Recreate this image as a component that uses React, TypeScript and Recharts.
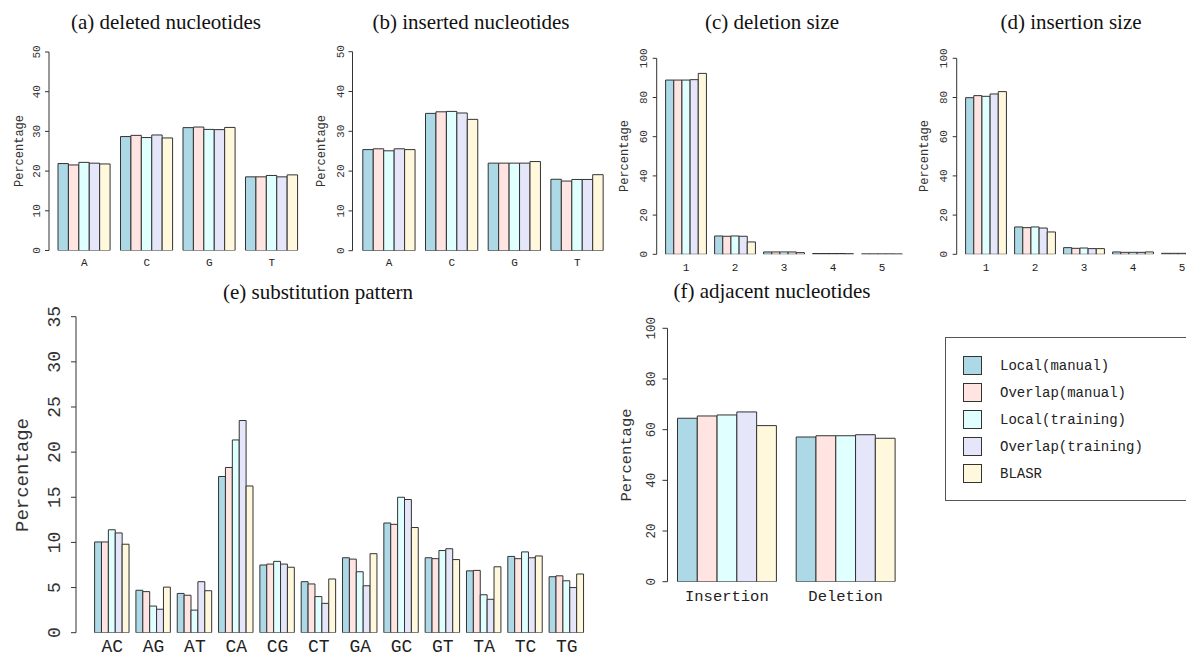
import { BarChart, Bar, XAxis, YAxis } from "recharts";

const methods = [
  "Local(manual)",
  "Overlap(manual)",
  "Local(training)",
  "Overlap(training)",
  "BLASR",
];
const methodColors = ["#ADD8E6", "#FFE4E1", "#E0FFFF", "#E6E6FA", "#FFF8DC"];

const nucleotides = ["A", "C", "G", "T"];
const sizes = ["1", "2", "3", "4", "5"];
const substitutions = ["AC", "AG", "AT", "CA", "CG", "CT", "GA", "GC", "GT", "TA", "TC", "TG"];
const adjacentTypes = ["Insertion", "Deletion"];

// one row per method, one column per category
const deletedNt = [
  [21.9, 28.7, 30.95, 18.55],
  [21.55, 29.0, 31.1, 18.55],
  [22.2, 28.45, 30.5, 18.9],
  [22.0, 29.1, 30.45, 18.55],
  [21.8, 28.35, 31.0, 19.05],
];
const insertedNt = [
  [25.4, 34.5, 22.0, 17.95],
  [25.6, 34.9, 22.0, 17.5],
  [25.1, 35.0, 22.0, 17.9],
  [25.6, 34.6, 22.0, 17.9],
  [25.4, 33.0, 22.4, 19.1],
];
const deletionSize = [
  [88.9, 9.35, 1.2, 0.4, 0.2],
  [88.9, 9.2, 1.2, 0.4, 0.2],
  [88.9, 9.35, 1.2, 0.4, 0.2],
  [89.1, 9.2, 1.2, 0.4, 0.2],
  [92.3, 6.3, 0.85, 0.3, 0.15],
];
const insertionSize = [
  [79.9, 13.95, 3.4, 1.2, 0.5],
  [80.95, 13.6, 3.05, 1.0, 0.5],
  [80.6, 13.95, 3.2, 1.0, 0.5],
  [81.8, 13.4, 2.9, 1.0, 0.5],
  [83.0, 11.4, 2.9, 1.2, 0.5],
];
const substitutionPct = [
  [10.05, 4.7, 4.35, 17.3, 7.5, 5.65, 8.3, 12.15, 8.3, 6.85, 8.45, 6.2],
  [10.05, 4.55, 4.15, 18.3, 7.6, 5.4, 8.15, 12.0, 8.2, 6.9, 8.2, 6.3],
  [11.4, 2.95, 2.5, 21.35, 7.9, 4.0, 6.75, 15.0, 9.1, 4.2, 8.95, 5.75],
  [11.05, 2.6, 5.65, 23.5, 7.6, 3.25, 5.2, 14.75, 9.3, 3.7, 8.3, 5.0],
  [9.8, 5.05, 4.65, 16.25, 7.25, 5.95, 8.75, 11.65, 8.1, 7.3, 8.5, 6.5],
];
const adjacentPct = [
  [64.5, 57.1],
  [65.4, 57.6],
  [65.8, 57.6],
  [67.0, 58.0],
  [61.6, 56.6],
];

const ticks50 = [0, 10, 20, 30, 40, 50];
const ticks100 = [0, 20, 40, 60, 80, 100];
const ticks35 = [0, 5, 10, 15, 20, 25, 30, 35];

const W = 1260;
const H = 657;
const MONO = "'Courier New', 'Liberation Mono', monospace";
const SERIF = "'Times New Roman', 'Liberation Serif', serif";

type PanelProps = {
  categories: string[];
  rows: number[][];
  axisX: number;
  padLeft: number;
  band: number;
  yTop: number;
  yBottom: number;
  yMax: number;
  yTicks: number[];
  tickFont: number;
  tickBase: number;
  tickSize: number;
  xFont: number;
  xLabelY: number;
};

function Panel(p: PanelProps) {
  const data = p.categories.map((c, i) => {
    const r: any = { name: c };
    p.rows.forEach((row, m) => (r["m" + m] = row[i]));
    return r;
  });
  const plotW = p.padLeft + p.categories.length * p.band;
  const yAxisW = 40;
  const xAxisH = 20;
  return (
    <div style={{ position: "absolute", left: 0, top: 0 }}>
      <BarChart
        width={W}
        height={H}
        data={data}
        barGap={0}
        barSize={p.band / 6}
        margin={{
          left: p.axisX - yAxisW,
          right: W - p.axisX - plotW,
          top: p.yTop,
          bottom: H - p.yBottom - xAxisH,
        }}
      >
        <XAxis
          dataKey="name"
          height={xAxisH}
          axisLine={false}
          tickLine={false}
          interval={0}
          padding={{ left: p.padLeft, right: 0 }}
          tick={(t: any) => (
            <text
              x={t.x}
              y={p.xLabelY}
              dy="0.35em"
              textAnchor="middle"
              fontFamily={MONO}
              fontSize={p.xFont}
              fill="#222"
            >
              {t.payload.value}
            </text>
          )}
        />
        <YAxis
          type="number"
          width={yAxisW}
          domain={[0, p.yMax]}
          ticks={p.yTicks}
          interval={0}
          allowDataOverflow
          tickSize={p.tickSize}
          axisLine={{ stroke: "#333" }}
          tickLine={{ stroke: "#333" }}
          tick={(t: any) => (
            <text
              transform={`translate(${p.axisX - p.tickBase},${t.y}) rotate(-90)`}
              textAnchor="middle"
              fontFamily={MONO}
              fontSize={p.tickFont}
              fill="#333"
            >
              {t.payload.value}
            </text>
          )}
        />
        {methods.map((m, i) => (
          <Bar
            key={m}
            dataKey={"m" + i}
            fill={methodColors[i]}
            stroke="#333"
            strokeWidth={1}
            isAnimationActive={false}
          />
        ))}
      </BarChart>
    </div>
  );
}

const titles = [
  { text: "(a) deleted nucleotides", x: 166, y: 29 },
  { text: "(b) inserted nucleotides", x: 471, y: 29 },
  { text: "(c) deletion size", x: 772, y: 29 },
  { text: "(d) insertion size", x: 1071, y: 29 },
  { text: "(e) substitution pattern", x: 318, y: 299 },
  { text: "(f) adjacent nucleotides", x: 772, y: 298 },
];

const yLabels = [
  { x: 23, y: 151, size: 12 },
  { x: 325, y: 151, size: 12 },
  { x: 628, y: 156, size: 12 },
  { x: 928, y: 156, size: 12 },
  { x: 28, y: 475, size: 19 },
  { x: 631, y: 455, size: 15.5 },
];

export default function App() {
  return (
    <div
      style={{
        position: "absolute",
        left: 0,
        top: 0,
        width: 1186,
        height: 657,
        overflow: "hidden",
        background: "#fff",
      }}
    >
      <Panel categories={nucleotides} rows={deletedNt} axisX={49} padLeft={4} band={62.5}
        yTop={52} yBottom={250.5} yMax={50} yTicks={ticks50} tickFont={11} tickBase={9} tickSize={4}
        xFont={11} xLabelY={262} />
      <Panel categories={nucleotides} rows={insertedNt} axisX={352.5} padLeft={5.3} band={62.7}
        yTop={51.7} yBottom={250.7} yMax={50} yTicks={ticks50} tickFont={11} tickBase={9} tickSize={4}
        xFont={11} xLabelY={262} />
      <Panel categories={sizes} rows={deletionSize} axisX={656.7} padLeft={4.9} band={49}
        yTop={58.3} yBottom={254.3} yMax={100} yTicks={ticks100} tickFont={11} tickBase={10} tickSize={4}
        xFont={11} xLabelY={267} />
      <Panel categories={sizes} rows={insertionSize} axisX={956.7} padLeft={4.9} band={49}
        yTop={58.3} yBottom={254.3} yMax={100} yTicks={ticks100} tickFont={11} tickBase={10} tickSize={4}
        xFont={11} xLabelY={267} />
      <Panel categories={substitutions} rows={substitutionPct} axisX={76} padLeft={15.6} band={41.32}
        yTop={316.7} yBottom={632.7} yMax={35} yTicks={ticks35} tickFont={18} tickBase={16} tickSize={5}
        xFont={18} xLabelY={646} />
      <Panel categories={adjacentTypes} rows={adjacentPct} axisX={667.5} padLeft={0} band={118.7}
        yTop={328.3} yBottom={581.7} yMax={100} yTicks={ticks100} tickFont={12.5} tickBase={13} tickSize={5}
        xFont={15.5} xLabelY={596} />
      <svg width={1186} height={657} style={{ position: "absolute", left: 0, top: 0, pointerEvents: "none" }}>
        {titles.map((t) => (
          <text key={t.text} x={t.x} y={t.y} textAnchor="middle" fontFamily={SERIF} fontSize={21} fill="#111">
            {t.text}
          </text>
        ))}
        {yLabels.map((l, i) => (
          <text
            key={i}
            transform={`translate(${l.x},${l.y}) rotate(-90)`}
            textAnchor="middle"
            fontFamily={MONO}
            fontSize={l.size}
            fill="#333"
          >
            Percentage
          </text>
        ))}
        <rect x={945.5} y={337.5} width={300} height={163} fill="none" stroke="#555" />
        {methods.map((m, i) => (
          <g key={m}>
            <rect x={963.5} y={356.5 + 27 * i} width={18} height={18} fill={methodColors[i]} stroke="#333" />
            <text x={1000} y={370 + 27 * i} fontFamily={MONO} fontSize={14} fill="#222">
              {m}
            </text>
          </g>
        ))}
      </svg>
    </div>
  );
}
